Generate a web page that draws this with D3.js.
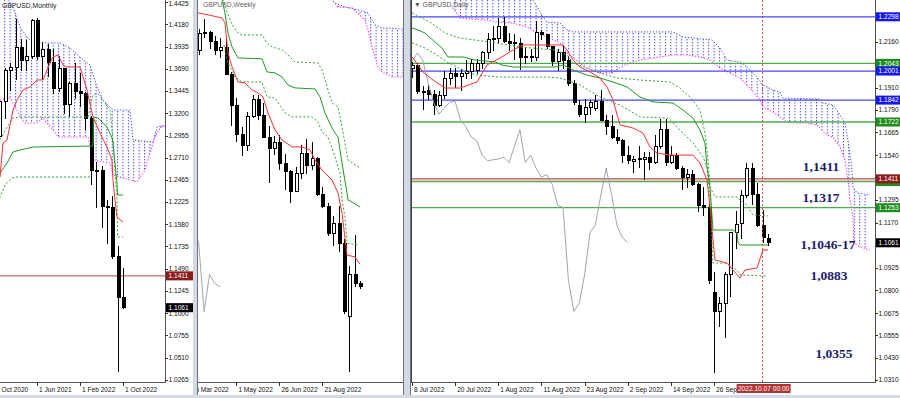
<!DOCTYPE html>
<html>
<head>
<meta charset="utf-8">
<script src="https://cdn.jsdelivr.net/npm/d3@7"></script>
<style>
  body { margin: 0; background: #fff; }
  text { font-family: "Liberation Sans", Arial, sans-serif; }
</style>
</head>
<body>
<div id="chart"></div>
<script>
// ---------- Monthly: index 1 = Nov 2020 ... 24 = Oct 2022
var mOpen  = [1.2940,1.3325,1.3672,1.3707,1.3925,1.3783,1.3820,1.4221,1.3830,1.3902,1.3757,1.3470,1.3688,1.3302,1.3532,1.3445,1.3415,1.3140,1.2574,1.2575,1.2177,1.2164,1.1620,1.1170];
var mHigh  = [1.3398,1.3704,1.3759,1.4241,1.4017,1.4009,1.4234,1.4250,1.3984,1.3958,1.3913,1.3834,1.3698,1.3550,1.3749,1.3644,1.3437,1.3167,1.2667,1.2617,1.2247,1.2293,1.1738,1.1495];
var mLow   = [1.2854,1.3135,1.3451,1.3567,1.3669,1.3668,1.3801,1.3787,1.3572,1.3601,1.3412,1.3434,1.3195,1.3161,1.3357,1.3272,1.3000,1.2410,1.2155,1.1933,1.1760,1.1600,1.0350,1.1045];
var mClose = [1.3325,1.3672,1.3707,1.3925,1.3783,1.3820,1.4221,1.3830,1.3902,1.3757,1.3470,1.3688,1.3302,1.3532,1.3445,1.3415,1.3140,1.2574,1.2575,1.2177,1.2164,1.1620,1.1170,1.1061];
var mTenkan = [[0,1.2420],[1.12,1.2499],[1.67,1.2873],[2.42,1.2906],[3.53,1.3236],[4.28,1.3346],[5.4,1.3457],[6.7,1.3489],[8,1.3567],[9.12,1.3567],[10.42,1.3754],[10.98,1.3820],[11.9,1.3842],[12.84,1.3732],[13.58,1.3710],[16,1.3710],[17.3,1.3457],[18.42,1.3159],[19.72,1.2983],[21.02,1.2829],[21.95,1.2686],[22.14,1.2466],[22.51,1.2246],[22.88,1.2059],[24,1.2004]];
var mKijun = [[0,1.2490],[1.12,1.2543],[2.42,1.2653],[3.53,1.2774],[4.84,1.2796],[7.26,1.2829],[18.42,1.2840],[18.5,1.3159],[19.35,1.3148],[21.02,1.3049],[21.95,1.2928],[22.14,1.2873],[22.51,1.2653],[22.88,1.2433],[23,1.2301],[24,1.2301]];
var mDashUp = [[0,1.2800],[1.12,1.2906],[2.42,1.3049],[3.53,1.3148],[4.84,1.3159],[17.49,1.3159],[18.42,1.3401],[19.16,1.3423],[20.28,1.3346],[21.58,1.3236],[22.14,1.2906],[22.51,1.2576],[22.88,1.2246],[23,1.1839],[24,1.1839]];
var mDashLo = [[0,1.2150],[1.12,1.2279],[2.05,1.2411],[3.35,1.2488],[4.28,1.2499],[17.86,1.2499]];
var mSpanA = [[0,1.4667],[1.98,1.4502],[3.53,1.4370],[4.84,1.4150],[6.14,1.4040],[7.26,1.3974],[12.28,1.3974],[14.14,1.3919],[16,1.3820],[17.86,1.3732],[19.16,1.3489],[20.28,1.3346],[22.14,1.3236],[25.3,1.3236],[25.86,1.2906],[29.58,1.2884],[30.33,1.3049],[32,1.3071]];
var mSpanB = [[0,1.3346],[1.12,1.3346],[2.98,1.3368],[4.28,1.3236],[4.84,1.3159],[5.77,1.3093],[8,1.3093],[9.12,1.3148],[10.98,1.3016],[11.9,1.2939],[17.49,1.2939],[18.42,1.2686],[21.58,1.2653],[22.14,1.2521],[26.6,1.2444],[28.1,1.2576],[29.02,1.2763],[29.95,1.2939],[30.88,1.3038],[32,1.3071]];
var mPriceTicks = [1.4425,1.4180,1.3935,1.3690,1.3445,1.3200,1.2955,1.2710,1.2465,1.2225,1.1980,1.1735,1.1490,1.1245,1.1000,1.0755,1.0510,1.0265];
var mDateIdx = [0,8,16,24];
var mDateLbl = ["1 Oct 2020","1 Jun 2021","1 Feb 2022","1 Oct 2022"];
var mLevels = [1.1411];
var mTags = [[1.1411,"#8c1c1c"],[1.1061,"#000"]];

// ---------- Weekly: index 0 = 13 Mar 2022 ... 30 = 9 Oct 2022
var wOpen  = [1.3040,1.3180,1.3185,1.3115,1.3035,1.3060,1.2835,1.2575,1.2335,1.2245,1.2485,1.2625,1.2490,1.2310,1.2215,1.2265,1.2095,1.2025,1.1860,1.2010,1.2175,1.2075,1.2135,1.1830,1.1735,1.1510,1.1590,1.1420,1.0810,1.1165,1.1087];
var wHigh  = [1.3215,1.3300,1.3200,1.3160,1.3145,1.3150,1.2860,1.2640,1.2400,1.2525,1.2665,1.2665,1.2600,1.2405,1.2325,1.2330,1.2170,1.2040,1.2065,1.2245,1.2295,1.2275,1.2145,1.1900,1.1760,1.1650,1.1738,1.1465,1.1235,1.1495,1.1110];
var wLow   = [1.3000,1.3140,1.3050,1.3000,1.2975,1.2830,1.2410,1.2275,1.2155,1.2200,1.2470,1.2460,1.2310,1.1933,1.2160,1.2040,1.1875,1.1760,1.1855,1.1960,1.2005,1.2040,1.1820,1.1720,1.1490,1.1405,1.1350,1.0838,1.0350,1.1060,1.1045];
var wClose = [1.3180,1.3185,1.3115,1.3035,1.3060,1.2835,1.2575,1.2335,1.2245,1.2485,1.2625,1.2490,1.2310,1.2215,1.2265,1.2095,1.2025,1.1860,1.2010,1.2175,1.2075,1.2135,1.1830,1.1735,1.1510,1.1590,1.1420,1.0855,1.1165,1.1090,1.1061];
var wTenkan = [[-1,1.3360],[-0.14,1.3351],[1.72,1.3335],[4.33,1.3309],[4.88,1.3268],[5.26,1.3100],[5.44,1.3017],[6.19,1.2900],[7.3,1.2774],[8.6,1.2766],[9.91,1.2707],[11.02,1.2682],[11.95,1.2649],[12.88,1.2515],[14.19,1.2373],[15.49,1.2289],[17.35,1.2231],[19.21,1.2231],[20.7,1.2206],[21.63,1.2122],[22.93,1.2038],[24.79,1.1955],[25.91,1.1846],[26.65,1.1679],[27.58,1.1328],[29.07,1.1311],[30,1.1250]];
var wKijun = [[2,1.3600],[4.33,1.3460],[4.88,1.3351],[5.44,1.3184],[6.19,1.3067],[7.3,1.2975],[11.77,1.2967],[12.7,1.2858],[14.19,1.2850],[15.49,1.2816],[16.6,1.2749],[17.91,1.2724],[21.63,1.2716],[22.56,1.2649],[23.49,1.2515],[24.79,1.2390],[25.35,1.2348],[25.91,1.2314],[26.65,1.2097],[27.58,1.1846],[27.77,1.1788],[28.51,1.1771],[30,1.1729]];
var wDashUp = [[4.33,1.3500],[5.26,1.3360],[6.19,1.3251],[7.3,1.3184],[8.05,1.3167],[11.77,1.3167],[12.7,1.3100],[13.63,1.3067],[15.49,1.3042],[16.6,1.3000],[17.91,1.2941],[22.19,1.2933],[22.93,1.2875],[24.79,1.2599],[25.91,1.2565],[26.65,1.2398],[27.77,1.2122],[30,1.2055]];
var wDashLo = [[4.7,1.3084],[5.44,1.2933],[6.74,1.2816],[8.05,1.2774],[11.77,1.2774],[12.7,1.2649],[14.19,1.2640],[16.05,1.2515],[17.35,1.2482],[21.07,1.2482],[22.19,1.2440],[22.93,1.2356],[24.05,1.2314],[25.35,1.2147],[26.28,1.2013],[26.65,1.1788],[27.21,1.1645],[27.58,1.1428],[29.63,1.1411]];
var wSpanA = [[22,1.3600],[24.79,1.3460],[25.35,1.3435],[27.21,1.3401],[29.63,1.3376],[31.49,1.3351],[32.23,1.3293],[32.79,1.3251],[34.09,1.3226],[38,1.3217]];
var wSpanB = [[22,1.3560],[24.79,1.3460],[25.9,1.3401],[28.51,1.3393],[30.93,1.3293],[31.49,1.3209],[32.23,1.3067],[32.79,1.2983],[33.35,1.2900],[34.09,1.2858],[35.95,1.2816],[38,1.2816]];
var wDateIdx = [-1,7,15,23];
var wDateLbl = ["6 Mar 2022","1 May 2022","26 Jun 2022","21 Aug 2022"];

// ---------- Daily: index 0 = 8 Jul 2022 ... 66 = 10 Oct 2022
var dOpen  = [1.2015,1.2030,1.1890,1.1895,1.1870,1.1810,1.1865,1.1960,1.1990,1.1970,1.1985,1.2000,1.2005,1.2045,1.2100,1.2175,1.2180,1.2245,1.2165,1.2150,1.2150,1.2075,1.2075,1.2075,1.2210,1.2200,1.2135,1.2055,1.2100,1.2060,1.1935,1.1815,1.1765,1.1800,1.1795,1.1835,1.1730,1.1695,1.1640,1.1620,1.1540,1.1505,1.1515,1.1515,1.1530,1.1500,1.1590,1.1680,1.1500,1.1540,1.1470,1.1420,1.1435,1.1380,1.1265,1.1255,1.0790,1.0685,1.0730,1.0885,1.1115,1.1165,1.1320,1.1470,1.1325,1.1155,1.1087];
var dHigh  = [1.2050,1.2045,1.1920,1.1930,1.1900,1.1890,1.2000,1.2020,1.2020,1.2010,1.2060,1.2065,1.2065,1.2110,1.2210,1.2245,1.2293,1.2295,1.2210,1.2205,1.2180,1.2130,1.2120,1.2275,1.2225,1.2205,1.2140,1.2120,1.2145,1.2085,1.1950,1.1840,1.1850,1.1845,1.1870,1.1900,1.1760,1.1760,1.1685,1.1630,1.1590,1.1535,1.1590,1.1560,1.1560,1.1650,1.1740,1.1738,1.1590,1.1550,1.1480,1.1465,1.1460,1.1390,1.1365,1.1275,1.0900,1.0765,1.0900,1.1120,1.1235,1.1350,1.1495,1.1495,1.1390,1.1240,1.1110];
var dLow   = [1.1965,1.1875,1.1790,1.1840,1.1760,1.1805,1.1850,1.1925,1.1910,1.1890,1.1960,1.1960,1.1985,1.2010,1.2065,1.2110,1.2150,1.2155,1.2110,1.2060,1.2005,1.2040,1.2050,1.2055,1.2170,1.2120,1.2030,1.2000,1.2010,1.1920,1.1815,1.1750,1.1718,1.1760,1.1780,1.1730,1.1650,1.1630,1.1600,1.1500,1.1490,1.1445,1.1470,1.1405,1.1460,1.1490,1.1575,1.1480,1.1490,1.1460,1.1350,1.1360,1.1370,1.1230,1.1210,1.0838,1.0350,1.0600,1.0540,1.0765,1.1025,1.1080,1.1305,1.1270,1.1145,1.1060,1.1045];
var dClose = [1.2030,1.1890,1.1885,1.1870,1.1810,1.1865,1.1960,1.1990,1.1970,1.1990,1.2000,1.2040,1.2045,1.2100,1.2175,1.2180,1.2245,1.2165,1.2150,1.2155,1.2075,1.2080,1.2080,1.2210,1.2200,1.2135,1.2055,1.2100,1.2060,1.1935,1.1830,1.1765,1.1800,1.1830,1.1835,1.1733,1.1695,1.1640,1.1620,1.1540,1.1510,1.1515,1.1520,1.1530,1.1500,1.1590,1.1680,1.1500,1.1540,1.1470,1.1420,1.1435,1.1380,1.1265,1.1255,1.0855,1.0685,1.0730,1.0885,1.1115,1.1160,1.1320,1.1470,1.1325,1.1155,1.1090,1.1061];
var dTenkan = [[0,1.2078],[2.04,1.1996],[3.89,1.1952],[6.12,1.1908],[8.9,1.1908],[12.05,1.1941],[13.9,1.2034],[16.31,1.2072],[18.72,1.2116],[20.58,1.2144],[27.99,1.2144],[28.74,1.2116],[29.85,1.2061],[31.15,1.2023],[33,1.1996],[34.85,1.1963],[36.15,1.1914],[37.26,1.1843],[38.56,1.1706],[40.97,1.1689],[42.83,1.1662],[44.12,1.1585],[45.42,1.1552],[47.83,1.1541],[52.1,1.1541],[53.39,1.1498],[54.69,1.1405],[55.25,1.1257],[55.8,1.1076],[56.17,1.0967],[58.4,1.0950],[60.81,1.0868],[61.73,1.0912],[63.96,1.0923],[65.07,1.1022],[66,1.1022]];
var dKijun = [[0,1.2237],[1.11,1.2226],[2.41,1.2209],[4.26,1.2160],[5.56,1.2127],[6.67,1.2078],[9.46,1.2078],[11.68,1.2061],[15.39,1.2051],[16.69,1.2034],[18.72,1.2023],[26.51,1.2023],[27.99,1.2034],[29.85,1.2007],[32.44,1.1979],[34.85,1.1963],[37.26,1.1941],[39.86,1.1914],[42.27,1.1859],[44.68,1.1832],[48.39,1.1826],[50.24,1.1788],[52.1,1.1744],[53.39,1.1678],[54.32,1.1607],[54.69,1.1476],[55.25,1.1366],[55.8,1.1131],[59.51,1.1131],[60.25,1.1115],[60.44,1.1060],[60.81,1.1049],[66,1.1049]];
var dDashUp = [[0,1.2319],[3.34,1.2269],[6.12,1.2209],[8.9,1.2182],[14.46,1.2160],[20.02,1.2133],[26.51,1.2116],[28.74,1.2089],[29.85,1.2045],[32.44,1.2018],[34.85,1.1990],[38,1.1963],[42.27,1.1952],[47.83,1.1941],[49.69,1.1908],[51.54,1.1859],[53.39,1.1788],[54.32,1.1662],[54.88,1.1514],[55.25,1.1366],[56.17,1.1312],[60.25,1.1312],[60.81,1.1295],[62.11,1.1268],[63.22,1.1213],[66,1.1208]];
var dDashLo = [[0,1.2155],[2.41,1.2127],[4.63,1.2089],[6.49,1.2051],[8.34,1.2023],[10.2,1.1996],[12.05,1.1979],[16.31,1.1968],[25.03,1.1968],[27.44,1.1963],[31.15,1.1925],[34.85,1.1859],[38.56,1.1815],[42.27,1.1750],[47.28,1.1744],[48.39,1.1717],[50.24,1.1662],[52.1,1.1607],[53.95,1.1531],[54.69,1.1476],[55.25,1.1295],[55.8,1.0950],[58.4,1.0950],[60.25,1.0912],[60.81,1.0885],[65.81,1.0879]];
var dSpanA = [[7.6,1.2444],[22.43,1.2390],[24.29,1.2297],[25.03,1.2269],[27.44,1.2264],[28.74,1.2226],[29.85,1.2215],[48.39,1.2215],[50.24,1.2187],[52.1,1.2182],[55.62,1.2171],[57.1,1.2127],[58.4,1.2061],[60.81,1.2051],[62.11,1.2023],[63.96,1.1968],[65.07,1.1925],[66.93,1.1897],[68.22,1.1886],[68.78,1.1853],[75.64,1.1848],[76.2,1.1826],[78.05,1.1815],[79.35,1.1760],[80.27,1.1717],[80.83,1.1624],[81.57,1.1459],[81.76,1.1366],[82.5,1.1334],[84.91,1.1323]];
var dSpanB = [[7.6,1.2346],[8.9,1.2291],[13.9,1.2280],[15.76,1.2269],[18.72,1.2264],[21.32,1.2242],[23.17,1.2209],[25.03,1.2187],[27.44,1.2155],[28.74,1.2100],[31.15,1.2045],[32.44,1.2018],[34.85,1.1990],[37.26,1.1990],[38.56,1.2023],[40.97,1.2051],[42.27,1.2061],[45.98,1.2078],[48.39,1.2089],[50.98,1.2089],[53.39,1.2078],[55.25,1.2061],[57.1,1.2018],[58.95,1.1990],[60.81,1.1963],[62.66,1.1908],[64.52,1.1843],[65.07,1.1804],[66.93,1.1777],[69.52,1.1722],[71.38,1.1717],[73.23,1.1717],[75.08,1.1706],[76.01,1.1678],[76.94,1.1651],[78.05,1.1640],[79.35,1.1585],[80.27,1.1514],[80.83,1.1405],[81.2,1.1295],[81.76,1.1202],[81.9,1.1060],[83.06,1.1038],[84.91,1.1022]];
var dPriceTicks = [1.2280,1.2160,1.2035,1.1910,1.1790,1.1665,1.1540,1.1420,1.1295,1.1170,1.1045,1.0925,1.0800,1.0675,1.0555,1.0430,1.0310];
var dDateIdx = [0,8,16,24,32,40,48,56];
var dDateLbl = ["8 Jul 2022","20 Jul 2022","1 Aug 2022","11 Aug 2022","23 Aug 2022","2 Sep 2022","14 Sep 2022","26 Sep 2022"];
var dBlueLevels = [1.2298,1.2001,1.1842];
var dGreenLevels = [1.2043,1.1722,1.1396,1.1253];
var dRedLevels = [1.1411];
// third field: false = tag sits under another tag and its text is not visible
var dTags = [[1.2298,"#1616f0",true],[1.2043,"#1e8c1e",true],[1.2001,"#1616f0",true],[1.1842,"#1616f0",true],[1.1722,"#1e8c1e",true],[1.1396,"#1e8c1e",false],[1.1411,"#8c1c1c",true],[1.1253,"#1e8c1e",true],[1.1061,"#000",true]];
var dCursorIdx = 65, dCursorLbl = "2022.10.07 00:00";
var notes = ["1,1411","1,1317","1,1046-17","1,0883","1,0355"];
var noteLevels = [1.1411,1.1317,1.1046,1.0883,1.0355];
var mTagsFull = mTags.map(function(t){ return [t[0], t[1], true]; });

// ---------- drawing
var svg = d3.select("#chart").append("svg").attr("width", 900).attr("height", 398);
svg.append("rect").attr("width", 900).attr("height", 398).attr("fill", "#fff");
var defs = svg.append("defs");

[["cM",0,0,165,382],["cW",198,0,205,382],["cD",412,0,463,382],
 ["cMx",0,382,165,13],["cWx",198,382,205,13],["cDx",412,382,463,13]].forEach(function(c){
  defs.append("clipPath").attr("id", c[0]).append("rect")
      .attr("x", c[1]).attr("y", c[2]).attr("width", c[3]).attr("height", c[4]);
});

function hatch(id, step, x0) {
  var p = defs.append("pattern").attr("id", id).attr("patternUnits", "userSpaceOnUse")
      .attr("x", x0).attr("y", 0).attr("width", step).attr("height", 3);
  p.append("rect").attr("x", 0).attr("y", 0).attr("width", 1).attr("height", 1.4).attr("fill", "#4a4aff");
}

var panels = [
  {name:"M", clip:"cM", xclip:"cMx", axisX:165, left:0, right:165,
   x:d3.scaleLinear().domain([0,24]).range([-6,123]), y:d3.scaleLinear().domain([1.4425,1.0265]).range([2,380]),
   start:1, o:mOpen, h:mHigh, l:mLow, c:mClose, tenkan:mTenkan, kijun:mKijun, dashes:[mDashUp,mDashLo],
   spanA:mSpanA, spanB:mSpanB, chikou:null, dateIdx:mDateIdx, dateLbl:mDateLbl},
  {name:"W", clip:"cW", xclip:"cWx", axisX:null, left:198, right:403,
   x:d3.scaleLinear().domain([0,30]).range([198.75,360]), y:d3.scaleLinear().domain([1.1495,1.0350]).range([235,372]),
   start:0, o:wOpen, h:wHigh, l:wLow, c:wClose, tenkan:wTenkan, kijun:wKijun, dashes:[wDashUp,wDashLo],
   spanA:wSpanA, spanB:wSpanB, chikou:wClose.map(function(v,k){return [k-26,v];}).filter(function(d){return d[0]>=-1;}),
   dateIdx:wDateIdx, dateLbl:wDateLbl},
  {name:"D", clip:"cD", xclip:"cDx", axisX:875, left:412, right:875,
   x:d3.scaleLinear().domain([0,66]).range([412,768]), y:d3.scaleLinear().domain([1.2160,1.0310]).range([42,380]),
   start:0, o:dOpen, h:dHigh, l:dLow, c:dClose, tenkan:dTenkan, kijun:dKijun, dashes:[dDashUp,dDashLo],
   spanA:dSpanA, spanB:dSpanB, chikou:dClose.map(function(v,i){return [i-26,v];}).filter(function(d){return d[0]>=-1;}),
   dateIdx:dDateIdx, dateLbl:dDateLbl}
];

panels.forEach(function(p) {
  var step = p.x(1) - p.x(0);
  hatch("h"+p.name, step, p.x(0) - 0.5);
  var line = d3.line().x(function(d){return p.x(d[0]);}).y(function(d){return p.y(d[1]);});
  var g = svg.append("g").attr("clip-path", "url(#"+p.clip+")");

  // cloud
  g.append("path").attr("d", line(p.spanA.concat(p.spanB.slice().reverse())) + "Z")
      .attr("fill", "url(#h"+p.name+")");
  g.append("path").datum(p.spanA).attr("d", line).attr("fill", "none")
      .attr("stroke", "#3c3cff").attr("stroke-width", 1).attr("stroke-dasharray", "1.2,1.8");
  g.append("path").datum(p.spanB).attr("d", line).attr("fill", "none")
      .attr("stroke", "#ff28ff").attr("stroke-width", 1.1).attr("stroke-dasharray", "1.2,1.8");

  p.g = g; p.line = line;
});

// horizontal levels
var M = panels[0], Wk = panels[1], D = panels[2];
M.g.selectAll(".lvl").data(mLevels).enter().append("line")
    .attr("x1", 0).attr("x2", 165).attr("y1", d => M.y(d)).attr("y2", d => M.y(d))
    .attr("stroke", "#b04848").attr("stroke-width", 1);

function levels(vals, color, w) {
  D.g.selectAll(null).data(vals).enter().append("line")
      .attr("x1", 412).attr("x2", 875).attr("y1", d => D.y(d)).attr("y2", d => D.y(d))
      .attr("stroke", color).attr("stroke-width", w);
}
levels(dBlueLevels, "#4646ff", 1.3);
levels(dGreenLevels, "#4cae4c", 1.3);
levels(dRedLevels, "#b04848", 1.2);
D.g.selectAll(null).data(dRedLevels).enter().append("line")
    .attr("x1", 412).attr("x2", 875).attr("y1", d => D.y(d) + 1.3).attr("y2", d => D.y(d) + 1.3)
    .attr("stroke", "#eab0b0").attr("stroke-width", 1);

panels.forEach(function(p) {
  var g = p.g, line = p.line;
  // candles
  var bars = p.o.map(function(v, j){ return {i:p.start+j, o:v, h:p.h[j], l:p.l[j], c:p.c[j]}; });
  var cg = g.append("g").attr("shape-rendering", "crispEdges");
  cg.selectAll("line").data(bars).enter().append("line")
      .attr("x1", d => Math.round(p.x(d.i)) + 0.5).attr("x2", d => Math.round(p.x(d.i)) + 0.5)
      .attr("y1", d => p.y(d.h)).attr("y2", d => p.y(d.l)).attr("stroke", "#000");
  cg.selectAll("rect").data(bars).enter().append("rect")
      .attr("x", d => Math.round(p.x(d.i)) - 1)
      .attr("y", d => p.y(Math.max(d.o, d.c)))
      .attr("width", 3)
      .attr("height", d => Math.max(p.y(Math.min(d.o, d.c)) - p.y(Math.max(d.o, d.c)), 1))
      .attr("fill", d => d.c >= d.o ? "#fff" : "#000")
      .attr("stroke", "#000").attr("stroke-width", 1);

  // indicators
  if (p.chikou) g.append("path").datum(p.chikou).attr("d", line).attr("fill", "none")
      .attr("stroke", "#9ea6ae").attr("stroke-width", 1);
  p.dashes.forEach(function(ds) {
    g.append("path").datum(ds).attr("d", line).attr("fill", "none")
        .attr("stroke", "#34a834").attr("stroke-width", 1).attr("stroke-dasharray", "2,2");
  });
  g.append("path").datum(p.kijun).attr("d", line).attr("fill", "none")
      .attr("stroke", "#1f9a1f").attr("stroke-width", 1);
  g.append("path").datum(p.tenkan).attr("d", line).attr("fill", "none")
      .attr("stroke", "#ff3030").attr("stroke-width", 1);

  // time axis
  svg.append("line").attr("x1", p.left).attr("x2", p.right).attr("y1", 382.5).attr("y2", 382.5)
      .attr("stroke", "#555").attr("stroke-width", 1);
  var xa = svg.append("g").attr("clip-path", "url(#"+p.xclip+")");
  xa.selectAll("line").data(p.dateIdx).enter().append("line")
      .attr("x1", d => Math.round(p.x(d)) + 0.5).attr("x2", d => Math.round(p.x(d)) + 0.5)
      .attr("y1", 382).attr("y2", 386).attr("stroke", "#333");
  xa.selectAll("text").data(p.dateIdx).enter().append("text")
      .attr("x", d => p.x(d) + 2).attr("y", 391.5)
      .attr("font-size", 6.6).attr("fill", "#111")
      .text((d, k) => p.dateLbl[k]);
});

// monthly & daily price axes (labels fully hidden under a price tag are left out, as in the terminal)
function priceAxis(p, ticks, tags, tagW) {
  svg.append("line").attr("x1", p.axisX + 0.5).attr("x2", p.axisX + 0.5).attr("y1", 0).attr("y2", 383)
      .attr("stroke", "#555");
  var shown = ticks.filter(function(t){
    return !tags.some(function(tg){ return Math.abs(p.y(t) - p.y(tg[0])) < 5; });
  });
  var ax = svg.append("g");
  ax.selectAll("line").data(ticks).enter().append("line")
      .attr("x1", p.axisX).attr("x2", p.axisX + 3)
      .attr("y1", d => Math.round(p.y(d)) + 0.5).attr("y2", d => Math.round(p.y(d)) + 0.5).attr("stroke", "#333");
  ax.selectAll("text").data(shown).enter().append("text")
      .attr("x", p.axisX + 3.5).attr("y", d => Math.max(p.y(d) + 2.4, 5.6))
      .attr("font-size", 6.6).attr("fill", "#111").text(d => d.toFixed(4));
  var tg = ax.selectAll(".tag").data(tags).enter().append("g");
  tg.append("rect").attr("x", p.axisX + 1).attr("y", d => p.y(d[0]) - 4.5)
      .attr("width", tagW).attr("height", 9).attr("fill", d => d[1]);
  tg.filter(d => d[2]).append("text").attr("x", p.axisX + 3.5).attr("y", d => p.y(d[0]) + 2.4)
      .attr("font-size", 6.6).attr("fill", "#fff").text(d => d[0].toFixed(4));
}
priceAxis(M, mPriceTicks, mTagsFull, 27);
priceAxis(D, dPriceTicks, dTags, 25);

// daily cursor line and date box
var cx = D.x(dCursorIdx);
svg.append("line").attr("x1", cx).attr("x2", cx).attr("y1", 0).attr("y2", 382)
    .attr("stroke", "#c84a4a").attr("stroke-width", 1).attr("stroke-dasharray", "2,2");
svg.append("rect").attr("x", cx - 26).attr("y", 384).attr("width", 54).attr("height", 9).attr("fill", "#b03434");
svg.append("text").attr("x", cx + 1).attr("y", 391).attr("text-anchor", "middle")
    .attr("font-size", 6.6).attr("fill", "#fff").text(dCursorLbl);

// level notes on daily chart
var noteX = [821, 821, 828, 829, 834], noteDy = [-7.5, 5.5, 3, 5, -13.3];
svg.selectAll(".note").data(notes).enter().append("text")
    .attr("x", (d, k) => noteX[k]).attr("y", (d, k) => D.y(noteLevels[k]) + noteDy[k])
    .attr("text-anchor", "middle")
    .style("font-family", '"Liberation Serif", "Times New Roman", serif')
    .attr("font-weight", "bold").attr("font-size", 13.5).attr("fill", "#1c1c6c")
    .text(d => d);

// window frames
svg.append("rect").attr("x", 193).attr("y", 0).attr("width", 4).attr("height", 398).attr("fill", "#d4dae3");
svg.append("rect").attr("x", 403).attr("y", 0).attr("width", 8).attr("height", 398).attr("fill", "#d4dae3");
svg.append("rect").attr("x", 0).attr("y", 395).attr("width", 900).attr("height", 3).attr("fill", "#d4dae3");
[[197.5],[403.5],[410.5]].forEach(function(v){
  svg.append("line").attr("x1", v[0]).attr("x2", v[0]).attr("y1", 0).attr("y2", 395).attr("stroke", "#6c7278");
});
svg.append("line").attr("x1", 411.5).attr("x2", 411.5).attr("y1", 0).attr("y2", 383).attr("stroke", "#444");

// titles
svg.append("text").attr("x", 2).attr("y", 8).attr("font-size", 6.8).attr("fill", "#222").text("GBPUSD,Monthly");
svg.append("text").attr("x", 203).attr("y", 7).attr("font-size", 6.8).attr("fill", "#666").text("GBPUSD,Weekly");
svg.append("text").attr("x", 414).attr("y", 7).attr("font-size", 6.8).attr("fill", "#555").text("\u25BC GBPUSD,Daily");
</script>
</body>
</html>
